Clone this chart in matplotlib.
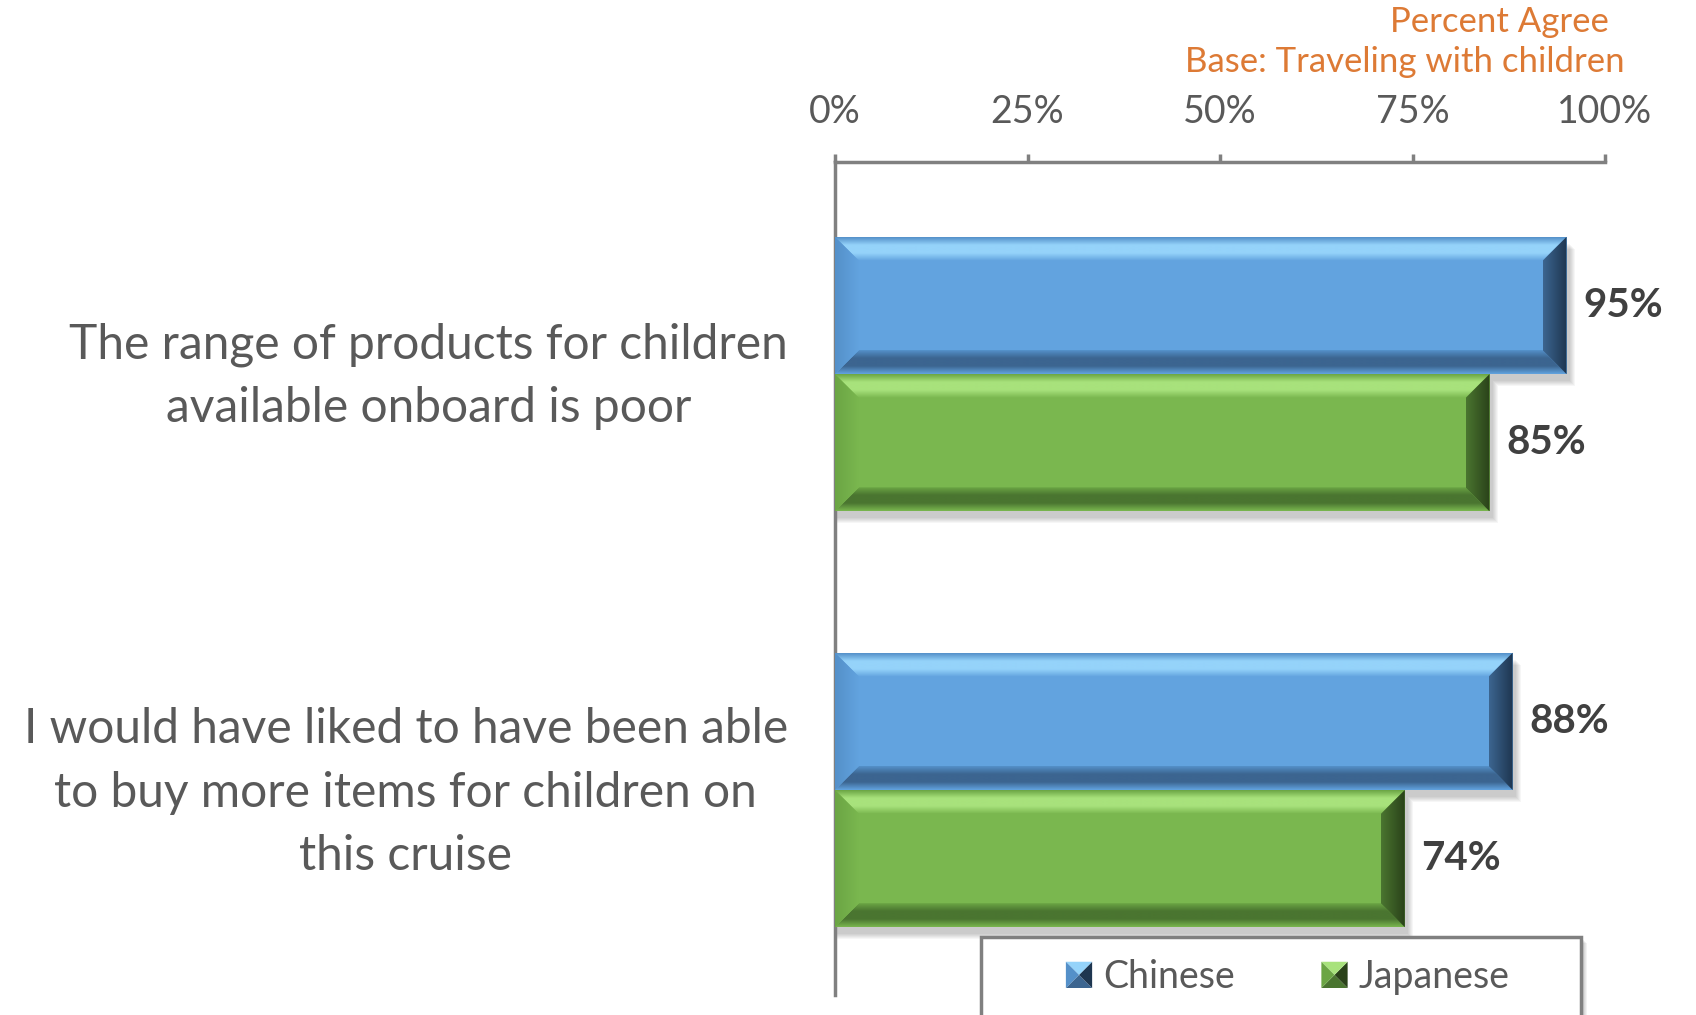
import numpy as np
import matplotlib
matplotlib.use('Agg')
import matplotlib.pyplot as plt
import matplotlib.transforms as mtransforms
from matplotlib.patches import Polygon, Rectangle
from matplotlib.colors import to_rgba
from matplotlib.legend_handler import HandlerBase

plt.rcParams['font.family'] = ['Lato', 'DejaVu Sans']

statements = ['The range of products for children\navailable onboard is poor',
              'I would have liked to have been able\nto buy more items for children on\nthis cruise']
chinese = [0.95, 0.88]
japanese = [0.85, 0.74]
series_names = ['Chinese', 'Japanese']
xticks = [0, 0.25, 0.5, 0.75, 1.0]
xtick_labels = ['0%', '25%', '50%', '75%', '100%']

# face, highlight, left side, bottom side, right edge
blue = ['#62A3DF', '#95D3FA', '#5490C9', '#3C6590', '#1E3650']
green = ['#7AB74F', '#A8E27C', '#6BA544', '#4A7530', '#2A4219']

W, H = 1696, 1015
fig = plt.figure(figsize=(W / 100, H / 100), dpi=100)
ax = fig.add_axes([835 / W, 1 - 995 / H, 770 / W, 833 / H])

y = np.arange(len(statements))
bh = 0.33
bars_c = ax.barh(y - bh / 2, chinese, height=bh, color=blue[0], zorder=3)
bars_j = ax.barh(y + bh / 2, japanese, height=bh, color=green[0], zorder=3)

# pixel sizes in data units
px_x = 1 / 770
px_y = 1 / 416


def draw_grad(pts, stops, vertical, flip, z):
    # gradient image clipped to a polygon
    poly = Polygon(pts, closed=True, fc='none', ec='none', transform=ax.transData)
    ax.add_patch(poly)
    xs = [p[0] for p in pts]
    ys = [p[1] for p in pts]
    xa, xb, ya, yb = min(xs), max(xs), min(ys), max(ys)
    cols = np.array([to_rgba(c) for c in stops])
    t = np.linspace(0, 1, 64)
    pos = np.linspace(0, 1, len(cols))
    img = np.stack([np.interp(t, pos, cols[:, i]) for i in range(4)], axis=-1)
    if vertical:
        img = img[:, None, :]
        ext = (xa, xb, ya, yb) if flip else (xa, xb, yb, ya)
    else:
        img = img[None, :, :]
        ext = (xb, xa, ya, yb) if flip else (xa, xb, ya, yb)
    im = ax.imshow(img, extent=ext, origin='upper', aspect='auto',
                   interpolation='bilinear', zorder=z)
    im.set_clip_path(poly)


def bevel(bar, pal):
    x0, y0 = bar.get_x(), bar.get_y()
    w, h = bar.get_width(), bar.get_height()
    bx, by = 24 * px_x, 24 * px_y
    x1, y1 = x0 + w, y0 + h
    # soft drop shadow
    for k in range(6):
        g = (k + 1) * 2
        ax.add_patch(Rectangle((x0 + 2 * px_x - g * px_x * 0.5, y0 + (6 + g * 0.5) * px_y),
                               w + g * px_x, h, color='k', alpha=0.035, lw=0, zorder=2))
    top = [(x0, y0), (x1, y0), (x1 - bx, y0 + by), (x0 + bx, y0 + by)]
    bot = [(x0, y1), (x1, y1), (x1 - bx, y1 - by), (x0 + bx, y1 - by)]
    left = [(x0, y0), (x0 + bx, y0 + by), (x0 + bx, y1 - by), (x0, y1)]
    right = [(x1, y0), (x1 - bx, y0 + by), (x1 - bx, y1 - by), (x1, y1)]
    draw_grad(top, [pal[2], pal[1], pal[1], pal[0]], True, False, 4)
    draw_grad(bot, [pal[0], pal[3], pal[3], pal[2]], True, True, 4)
    draw_grad(left, [pal[2], pal[0]], False, False, 5)
    draw_grad(right, [pal[3], pal[4]], False, False, 6)


for bars, vals, pal in [(bars_c, chinese, blue), (bars_j, japanese, green)]:
    for bar, v in zip(bars, vals):
        bevel(bar, pal)
        ax.annotate(f'{v:.0%}', (v, bar.get_y() + bar.get_height() / 2),
                    xytext=(12, 0), textcoords='offset points', ha='left', va='center',
                    fontsize=29, fontweight='bold', color='#404040', zorder=7)

ax.set_xlim(0, 1)
ax.set_ylim(1.493, -0.51)

# axes: top x-axis with ticks pointing up
for s in ['right', 'bottom']:
    ax.spines[s].set_visible(False)
for s in ['top', 'left']:
    ax.spines[s].set_color('#808080')
    ax.spines[s].set_linewidth(2.5)
ax.xaxis.tick_top()
ax.set_xticks(xticks)
ax.set_xticklabels(xtick_labels)
ax.tick_params(axis='x', direction='out', length=6, width=2.5, color='#808080',
               pad=17, labelsize=27, labelcolor='#595959')
ax.set_yticks(y)
ax.set_yticklabels(statements, multialignment='center', linespacing=1.53)
ax.tick_params(axis='y', length=0, pad=34, labelsize=34.5, labelcolor='#595959')
lift = mtransforms.ScaledTranslation(0, 0.11, fig.dpi_scale_trans)
for lab in ax.get_yticklabels():
    lab.set_transform(lab.get_transform() + lift)

fig.text(1609 / W, 1 - 22 / H, 'Percent Agree', ha='right', va='center',
         fontsize=25, color='#DD7A35')
fig.text(1625 / W, 1 - 62 / H, 'Base: Traveling with children', ha='right', va='center',
         fontsize=25, color='#DD7A35')


# legend keys drawn as small bevelled squares
class PyramidHandler(HandlerBase):
    def create_artists(self, legend, orig, xd, yd, width, height, fontsize, trans):
        pal = orig.pal
        s = height * 1.0
        x0, y0 = xd + width - s, yd + (height - s) / 2
        c = (x0 + s / 2, y0 + s / 2)
        pts = [(x0, y0), (x0 + s, y0), (x0 + s, y0 + s), (x0, y0 + s)]
        cols = [pal[3], pal[4], pal[1], pal[2]]
        arts = []
        for i in range(4):
            p = Polygon([pts[i], pts[(i + 1) % 4], c], color=cols[i], lw=0, transform=trans)
            arts.append(p)
        return arts


h_c = Rectangle((0, 0), 1, 1)
h_c.pal = blue
h_j = Rectangle((0, 0), 1, 1)
h_j.pal = green

# legend frame runs off the bottom edge
for k in range(4):
    fig.add_artist(Rectangle(((981 + 3 + k) / W, -0.05), 600 / W, 0.05 + 1 - (937 + 3 + k) / H,
                             transform=fig.transFigure, facecolor='k', alpha=0.05, lw=0, zorder=7))
fig.add_artist(Rectangle((981 / W, -0.05), 600 / W, 0.05 + 1 - 937 / H, transform=fig.transFigure,
                         facecolor='white', edgecolor='#808080', lw=2.5, zorder=8))
leg = fig.legend([h_c, h_j], series_names, handler_map={Rectangle: PyramidHandler()},
                 loc='center', bbox_to_anchor=(1286 / W, 1 - 977 / H), ncol=2,
                 frameon=False, fontsize=27, handlelength=0.8, handletextpad=0.3,
                 columnspacing=2.2, labelcolor='#595959')
leg.set_zorder(9)

fig.savefig('out.png', dpi=100)
